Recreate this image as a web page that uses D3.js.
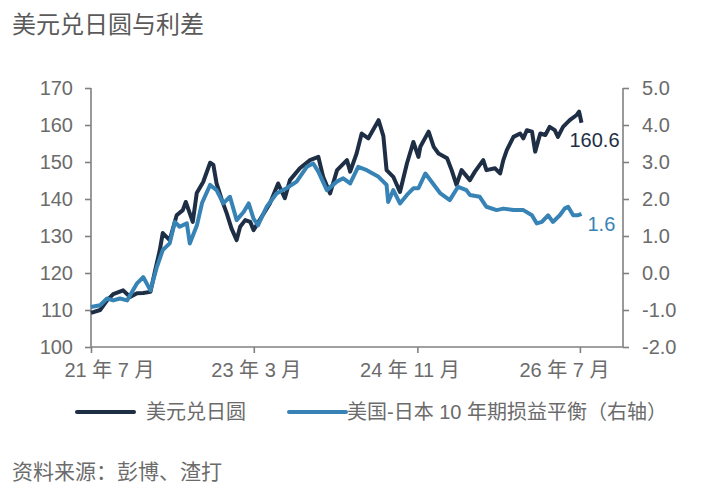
<!DOCTYPE html>
<html>
<head>
<meta charset="utf-8">
<script src="https://cdn.jsdelivr.net/npm/d3@7"></script>
<style>
  body { margin: 0; background: #fff; }
  svg { display: block; font-family: "Liberation Sans", Arial, "Noto Sans CJK SC", sans-serif; }
</style>
</head>
<body>
<div id="chart"></div>
<script>
// USD/JPY (left axis)
const usdDates = ["2021-07-01","2021-08-04","2021-08-30","2021-09-22","2021-10-29","2021-11-24","2021-12-20","2022-01-12","2022-02-08","2022-02-26","2022-03-15","2022-03-26","2022-04-21","2022-05-17","2022-06-09","2022-06-20","2022-07-16","2022-07-31","2022-08-24","2022-09-19","2022-10-01","2022-10-13","2022-11-02","2022-11-20","2022-12-08","2022-12-27","2023-01-09","2023-01-28","2023-02-16","2023-02-28","2023-03-23","2023-04-30","2023-05-31","2023-06-25","2023-07-14","2023-08-20","2023-09-27","2023-10-28","2023-11-15","2023-12-11","2024-01-06","2024-02-12","2024-02-24","2024-03-19","2024-04-07","2024-05-02","2024-06-09","2024-06-27","2024-07-09","2024-08-03","2024-08-28","2024-09-23","2024-10-17","2024-11-05","2024-11-12","2024-12-13","2025-01-01","2025-01-19","2025-02-20","2025-03-09","2025-03-27","2025-04-15","2025-05-16","2025-06-04","2025-07-05","2025-07-17","2025-08-18","2025-09-06","2025-09-18","2025-10-01","2025-10-26","2025-11-20","2025-12-02","2025-12-15","2026-01-03","2026-01-15","2026-02-03","2026-02-22","2026-03-10","2026-03-29","2026-04-10","2026-04-29","2026-05-24","2026-06-19","2026-06-28","2026-07-07"];
const usdValues = [109.2,110.0,112.6,114.3,115.3,113.5,114.5,114.6,114.9,120.8,126.2,130.8,128.9,135.6,137.0,139.2,133.8,141.6,144.6,149.8,149.2,144.2,139.7,136.1,132.0,128.9,132.5,134.3,133.8,131.6,134.3,138.8,144.2,140.2,145.1,148.3,150.5,151.4,146.0,141.5,147.8,150.5,147.4,152.3,157.7,156.4,161.3,157.0,147.8,146.0,141.9,149.6,155.4,151.4,154.1,158.2,154.1,152.3,151.0,147.8,143.8,147.8,145.1,147.4,150.5,147.8,148.3,146.9,150.5,153.2,156.8,157.7,156.4,158.6,158.2,152.8,157.7,157.3,159.5,158.6,156.8,159.5,161.3,162.7,163.6,160.6];

// US-Japan 10y breakeven spread (right axis)
const spreadDates = ["2021-07-01","2021-08-04","2021-08-30","2021-09-22","2021-10-17","2021-11-13","2021-12-20","2022-01-12","2022-02-08","2022-03-04","2022-03-26","2022-04-21","2022-05-10","2022-05-28","2022-06-24","2022-07-05","2022-08-01","2022-08-20","2022-09-19","2022-10-13","2022-11-07","2022-12-02","2022-12-27","2023-01-22","2023-02-10","2023-02-28","2023-03-17","2023-04-18","2023-05-25","2023-07-01","2023-08-08","2023-09-15","2023-10-09","2023-10-28","2023-11-29","2024-01-05","2024-01-29","2024-02-24","2024-03-25","2024-04-26","2024-06-09","2024-07-09","2024-07-15","2024-08-03","2024-08-28","2024-09-23","2024-10-17","2024-11-05","2024-12-01","2025-01-26","2025-03-02","2025-04-02","2025-05-03","2025-05-16","2025-06-22","2025-07-17","2025-08-24","2025-09-18","2025-10-26","2025-12-02","2026-01-03","2026-01-21","2026-02-09","2026-03-04","2026-03-22","2026-04-17","2026-05-05","2026-05-18","2026-06-06","2026-06-24","2026-07-07"];
const spreadValues = [-0.92,-0.87,-0.69,-0.74,-0.69,-0.74,-0.28,-0.11,-0.47,0.16,0.62,0.80,1.38,1.25,1.34,0.80,1.30,1.90,2.38,2.24,1.88,2.06,1.43,1.65,1.88,1.47,1.29,1.79,2.15,2.29,2.47,2.87,2.96,2.74,2.24,2.47,2.56,2.42,2.87,2.78,2.60,2.38,1.92,2.24,1.88,2.11,2.29,2.29,2.69,2.15,1.97,2.33,2.24,2.11,2.06,1.79,1.70,1.74,1.70,1.70,1.56,1.34,1.38,1.56,1.38,1.56,1.74,1.79,1.56,1.56,1.60];

const leftTicks = [100, 110, 120, 130, 140, 150, 160, 170];
const rightTicks = [-2, -1, 0, 1, 2, 3, 4, 5];
const xTickDates = ["2021-07-01","2023-03-01","2024-11-01","2026-07-01"];
const xTickLabels = ["21 年 7 月","23 年 3 月","24 年 11 月","26 年 7 月"];
const seriesNames = ["美元兑日圆", "美国-日本 10 年期损益平衡（右轴）"];
const endLabels = ["160.6", "1.6"];

const W = 706, H = 490;
const margin = { left: 91, right: 83, top: 88, bottom: 143 };
const colors = { usd: "#1d2e45", spread: "#3783b6", axis: "#808080", text: "#6b6b6b" };

const parse = d3.timeParse("%Y-%m-%d");

const svg = d3.select("#chart").append("svg")
    .attr("width", W)
    .attr("height", H);

const x = d3.scaleTime()
    .domain([parse("2021-07-01"), parse("2026-12-09")])
    .range([margin.left, W - margin.right]);
const yL = d3.scaleLinear().domain([100, 170]).range([H - margin.bottom, margin.top]);
const yR = d3.scaleLinear().domain([-2, 5]).range([H - margin.bottom, margin.top]);

// title
svg.append("text")
    .attr("x", 12).attr("y", 33)
    .attr("fill", "#5a5a5a")
    .style("font-size", "24px")
    .text("美元兑日圆与利差");

// left axis
const axL = svg.append("g")
    .attr("transform", `translate(${margin.left},0)`)
    .call(d3.axisLeft(yL).tickValues(leftTicks).tickSize(6).tickPadding(12).tickFormat(d3.format("d")));

// right axis (plain hyphen for negatives, like the original)
const fmtR = d3.format(".1f");
const axR = svg.append("g")
    .attr("transform", `translate(${W - margin.right},0)`)
    .call(d3.axisRight(yR).tickValues(rightTicks).tickSize(6).tickPadding(13)
        .tickFormat(d => fmtR(d).replace("\u2212", "-")));

// bottom axis
const xLabelShift = [18, 2, -8, -16];
const axB = svg.append("g")
    .attr("transform", `translate(0,${H - margin.bottom})`)
    .call(d3.axisBottom(x).tickValues(xTickDates.map(parse)).tickSize(6).tickPadding(10)
        .tickFormat((d, i) => xTickLabels[i]));
axB.selectAll(".tick text").attr("dx", (d, i) => xLabelShift[i]);

[axL, axR, axB].forEach(ax => {
    ax.select(".domain").attr("stroke", colors.axis).attr("stroke-width", 1.6);
    ax.selectAll(".tick line").attr("stroke", colors.axis).attr("stroke-width", 1.6);
    ax.selectAll(".tick text").attr("fill", colors.text).style("font-size", "20px")
        .style("font-family", "'Liberation Sans', 'Noto Sans CJK SC', sans-serif");
});
axL.select(".domain").attr("d", `M0,${margin.top}V${H - margin.bottom}`);
axR.select(".domain").attr("d", `M0,${margin.top}V${H - margin.bottom}`);
axB.select(".domain").attr("d", `M${margin.left},0H${W - margin.right}`);

// lines
const usdData = usdDates.map((d, i) => ({ date: parse(d), value: usdValues[i] }));
const spreadData = spreadDates.map((d, i) => ({ date: parse(d), value: spreadValues[i] }));

const lineL = d3.line().x(d => x(d.date)).y(d => yL(d.value));
const lineR = d3.line().x(d => x(d.date)).y(d => yR(d.value));

svg.append("path")
    .datum(usdData)
    .attr("fill", "none")
    .attr("stroke", colors.usd)
    .attr("stroke-width", 4)
    .attr("stroke-linejoin", "round")
    .attr("d", lineL);

svg.append("path")
    .datum(spreadData)
    .attr("fill", "none")
    .attr("stroke", colors.spread)
    .attr("stroke-width", 4)
    .attr("stroke-linejoin", "round")
    .attr("d", lineR);

// end value labels
const lastUsd = usdData[usdData.length - 1];
const lastSpread = spreadData[spreadData.length - 1];
svg.append("text")
    .attr("x", x(lastUsd.date) - 12).attr("y", yL(lastUsd.value) + 24)
    .attr("fill", colors.usd)
    .style("font-size", "20px")
    .text(endLabels[0]);
svg.append("text")
    .attr("x", x(lastSpread.date) + 6).attr("y", yR(lastSpread.value) + 17)
    .attr("fill", colors.spread)
    .style("font-size", "20px")
    .text(endLabels[1]);

// legend
const legend = svg.append("g").attr("transform", "translate(0,412)");
const legendItems = [
    { x: 77, color: colors.usd, name: seriesNames[0], gap: 69 },
    { x: 289, color: colors.spread, name: seriesNames[1], gap: 58 }
];
legendItems.forEach(it => {
    legend.append("line")
        .attr("x1", it.x).attr("x2", it.x + 57)
        .attr("y1", 0).attr("y2", 0)
        .attr("stroke", it.color)
        .attr("stroke-width", 4)
        .attr("stroke-linecap", "round");
    legend.append("text")
        .attr("x", it.x + it.gap)
        .attr("y", 7)
        .attr("fill", colors.text)
        .style("font-size", "20px")
        .text(it.name);
});

// source
svg.append("text")
    .attr("x", 12).attr("y", 479)
    .attr("fill", colors.text)
    .style("font-size", "21px")
    .text("资料来源：彭博、渣打");
</script>
</body>
</html>
